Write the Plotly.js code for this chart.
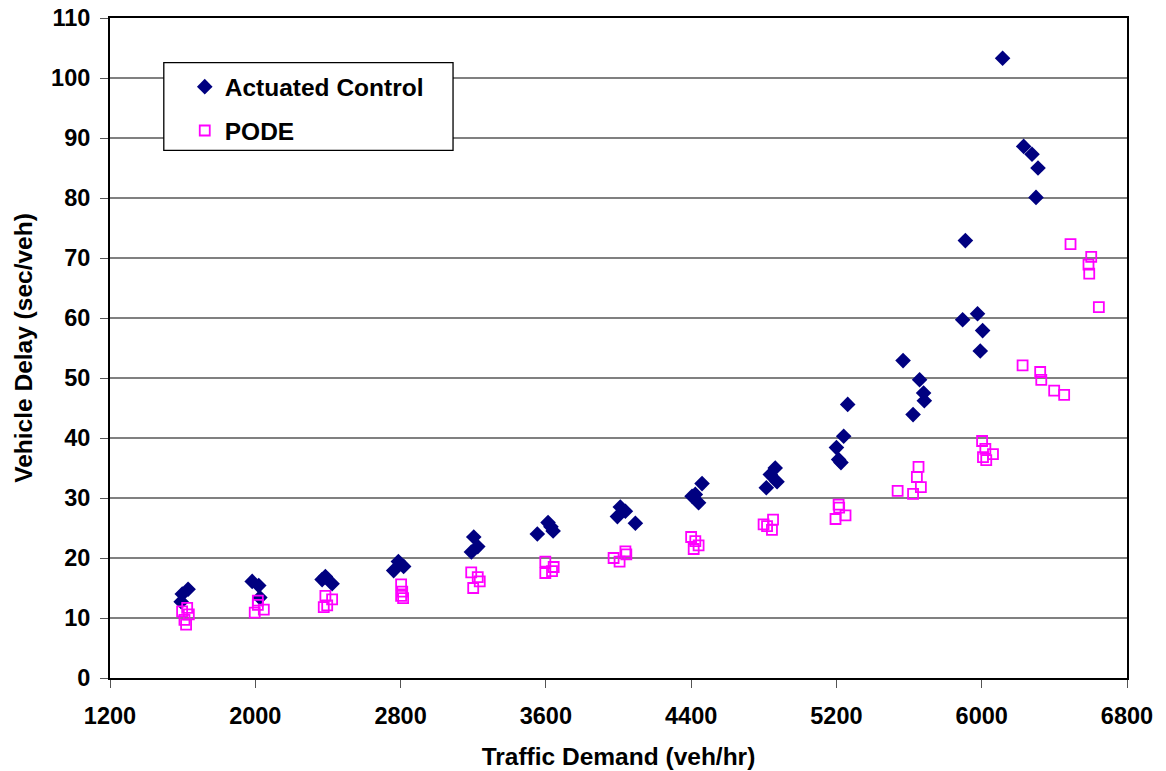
<!DOCTYPE html>
<html>
<head>
<meta charset="utf-8">
<script src="https://cdn.plot.ly/plotly-3.0.1.min.js"></script>
<style>html,body{margin:0;padding:0;background:#fff;}#chart{width:1166px;height:771px;}</style>
</head>
<body>
<div id="chart"></div>
<script>
// Actuated Control series
const actX = [1630,1598,1592, 1983,2019,2025, 2386,2368,2423, 2788,2817,2762,
  3203,3225,3190, 3612,3640,3553,3628, 4010,4038,3994,4093, 4460,4423,4405,4441,
  4863,4836,4873,4814, 5262,5240,5200,5212,5225, 5567,5658,5680,5684,5622,
  5895,5977,6005,5992,5910, 6115,6231,6277,6310,6299];
const actY = [14.8,14.0,12.7, 16.1,15.4,13.4, 16.9,16.4,15.7, 19.4,18.6,17.9,
  23.5,21.9,21.0, 25.9,24.5,24.0,25.2, 28.5,27.8,26.9,25.8, 32.4,30.6,30.3,29.2,
  35.0,33.9,32.7,31.7, 45.6,40.3,38.4,36.4,35.9, 52.9,49.7,47.5,46.2,43.9,
  59.7,60.7,57.9,54.5,72.9, 103.3,88.6,87.3,85.0,80.1];

// PODE series
const podeX = [1625,1597,1634,1610,1619, 2014,2014,2047,1997, 2386,2423,2396,2377,
  2803,2809,2803,2814, 3189,3225,3236,3200, 3597,3643,3634,3597, 3973,4006,4038,4043,
  4400,4423,4441,4414, 4851,4799,4818,4845, 5212,5215,5250,5195,
  5652,5643,5665,5537,5622, 6002,6020,6007,6025,6062,
  6225,6322,6328,6399,6454, 6489,6603,6588,6592,6645];
const podeY = [11.7,11.1,10.6,9.7,8.9, 12.9,12.2,11.4,10.9, 13.7,13.1,12.1,11.8,
  15.6,14.4,13.7,13.3, 17.6,16.8,16.1,15.0, 19.4,18.5,17.8,17.5, 20.0,19.4,21.1,20.6,
  23.5,22.8,22.1,21.5, 26.4,25.6,25.3,24.7, 28.9,28.4,27.1,26.5,
  35.2,33.5,31.8,31.2,30.7, 39.5,38.2,36.8,36.3,37.3,
  52.1,51.0,49.7,47.9,47.2, 72.3,70.2,68.9,67.4,61.8];

const xTicks = [1200,2000,2800,3600,4400,5200,6000,6800];
const yTicks = [0,10,20,30,40,50,60,70,80,90,100,110];
const seriesNames = ['Actuated Control','PODE'];
const xTitle = 'Traffic Demand (veh/hr)';
const yTitle = 'Vehicle Delay (sec/veh)';

const FONT = 'Liberation Sans, Arial, sans-serif';
const TICKSIZE = 23.5;
const TITLESIZE = 24.5;

const traces = [
  {x: actX, y: actY, type: 'scatter', mode: 'markers', name: seriesNames[0],
   legendgroup: 'a',
   marker: {symbol: 'diamond', size: 12, color: '#000080', line: {width: 0}}},
  {x: podeX, y: podeY, type: 'scatter', mode: 'markers', name: seriesNames[1],
   legendgroup: 'b',
   marker: {symbol: 'square-open', size: 10, color: '#FF00FF', line: {width: 1.8, color: '#FF00FF'}}}
];

const layout = {
  width: 1166, height: 771,
  margin: {l: 110, r: 39, t: 18, b: 93},
  paper_bgcolor: '#ffffff', plot_bgcolor: '#ffffff',
  font: {family: FONT, size: TICKSIZE, color: '#000000', weight: 700},
  showlegend: true,
  legend: {x: 0.0735, y: 0.930, xanchor: 'left', yanchor: 'top',
    bgcolor: 'rgba(0,0,0,0)', borderwidth: 0, traceorder: 'grouped', tracegroupgap: 9,
    font: {family: FONT, size: TITLESIZE, color: '#000000', weight: 700}},
  xaxis: {range: [1200, 6800], tickvals: xTicks, ticktext: xTicks.map(String),
    showgrid: false, zeroline: false, showline: true, linecolor: '#000000', linewidth: 2,
    mirror: true, ticks: 'outside', ticklen: 8, tickwidth: 1, tickcolor: '#555555',
    ticklabelstandoff: 8, automargin: false,
    tickfont: {family: FONT, size: TICKSIZE, color: '#000000', weight: 700},
    title: {text: xTitle, standoff: 20, font: {family: FONT, size: TITLESIZE, color: '#000000', weight: 700}}},
  yaxis: {range: [0, 110], tickvals: yTicks, ticktext: yTicks.map(String),
    showgrid: true, gridcolor: '#808080', gridwidth: 1.3, zeroline: false,
    showline: true, linecolor: '#000000', linewidth: 2, mirror: true,
    ticks: 'outside', ticklen: 8, tickwidth: 1, tickcolor: '#555555',
    ticklabelstandoff: 5, automargin: false,
    tickfont: {family: FONT, size: TICKSIZE, color: '#000000', weight: 700},
    title: {text: yTitle, standoff: 12, font: {family: FONT, size: TITLESIZE, color: '#000000', weight: 700}}},
  shapes: [
    {type: 'rect', xref: 'paper', yref: 'paper', x0: 0.0529, x1: 0.3373, y0: 0.7995, y1: 0.9324,
     fillcolor: '#ffffff', line: {color: '#000000', width: 1.3}, layer: 'above'}
  ]
};

Plotly.newPlot('chart', traces, layout, {displayModeBar: false, staticPlot: true});
</script>
</body>
</html>
